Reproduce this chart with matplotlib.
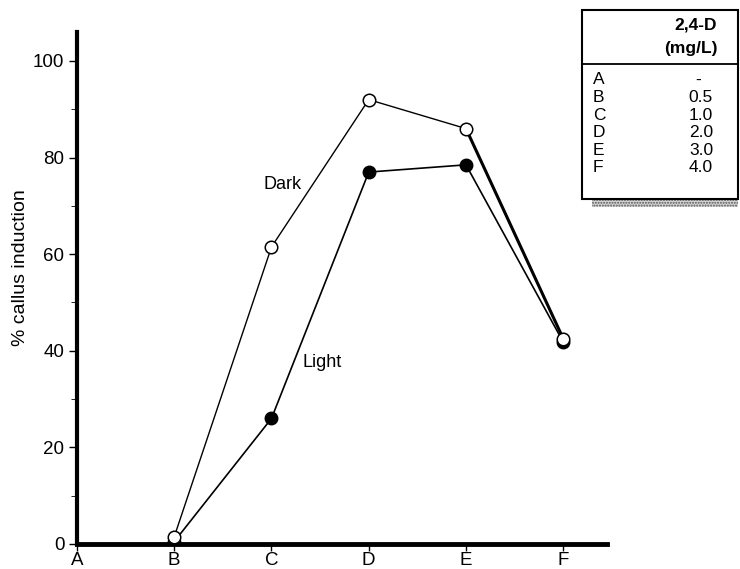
import matplotlib.pyplot as plt
from matplotlib.patches import Rectangle

plt.rcParams['font.family'] = ['Liberation Sans', 'DejaVu Sans']

categories = ["A", "B", "C", "D", "E", "F"]
dark_x = [1, 2, 3, 4, 5]
dark = [1.5, 61.5, 92.0, 86.0, 42.5]
light_x = [1, 2, 3, 4, 5]
light = [0.5, 26.0, 77.0, 78.5, 41.8]
table_rows = ["A", "B", "C", "D", "E", "F"]
table_vals = ["-", "0.5", "1.0", "2.0", "3.0", "4.0"]

W, H = 740, 569
fig = plt.figure(figsize=(W / 100, H / 100), dpi=100)
ax = fig.add_axes([77 / W, 1 - 544 / H, (607 - 77) / W, (544 - 32) / H])

# lines
ax.plot(dark_x, dark, color="black", lw=1.0, zorder=2)
ax.plot(dark_x[3:], dark[3:], color="black", lw=2.2, zorder=2)
ax.plot(light_x, light, color="black", lw=1.2, zorder=2)
ax.plot(light_x, light, ls="none", marker="o", ms=9, mfc="black", mec="black", zorder=3)
ax.plot(dark_x, dark, ls="none", marker="o", ms=9, mfc="white", mec="black", mew=1.1, zorder=4)

ax.text(2.11, 74.5, "Dark", fontsize=13, ha="center", va="center")
ax.text(2.52, 37.5, "Light", fontsize=13, ha="center", va="center")

ax.set_xlim(0, 5.45)
ax.set_ylim(0, 106)
ax.set_xticks(range(len(categories)))
ax.set_xticklabels(categories)
ax.set_yticks([0, 20, 40, 60, 80, 100])
ax.set_yticks([10, 30, 50, 70, 90], minor=True)
ax.tick_params(axis="both", labelsize=13.5, direction="out", width=1, color="black")
ax.tick_params(axis="y", which="major", length=6, pad=3)
ax.tick_params(axis="y", which="minor", length=4)
ax.tick_params(axis="x", length=5, pad=1)
for s in ["top", "right"]:
    ax.spines[s].set_visible(False)
ax.spines["left"].set_linewidth(3)
ax.spines["bottom"].set_linewidth(3.5)
ax.set_ylabel("% callus induction", fontsize=14)
ax.yaxis.set_label_coords(-0.09, 0.539)

# table box in figure pixel coords
def fx(x):
    return x / W

def fy(y):
    return 1 - y / H

tr = fig.transFigure
fig.add_artist(Rectangle((fx(592), fy(207)), fx(738 - 592), (207 - 199) / H, transform=tr,
                         facecolor="#d8d8d8", edgecolor="#555555", hatch="......", lw=0))
fig.add_artist(Rectangle((fx(582), fy(199)), fx(738 - 582), (199 - 10) / H, transform=tr,
                         facecolor="white", edgecolor="black", lw=1.5))
fig.add_artist(plt.Line2D([fx(582), fx(738)], [fy(64), fy(64)], transform=tr, color="black", lw=1.3))
fig.text(fx(717), fy(25), "2,4-D", fontsize=12.5, fontweight="bold", ha="right", va="center")
fig.text(fx(718), fy(49), "(mg/L)", fontsize=12.5, fontweight="bold", ha="right", va="center")
for i, (r, v) in enumerate(zip(table_rows, table_vals)):
    y = fy(80 + i * 17.6)
    fig.text(fx(593), y, r, fontsize=12.5, ha="left", va="center")
    if v == "-":
        fig.text(fx(698), y, v, fontsize=12.5, ha="center", va="center")
    else:
        fig.text(fx(713), y, v, fontsize=12.5, ha="right", va="center")

plt.savefig("out.png", dpi=100)
